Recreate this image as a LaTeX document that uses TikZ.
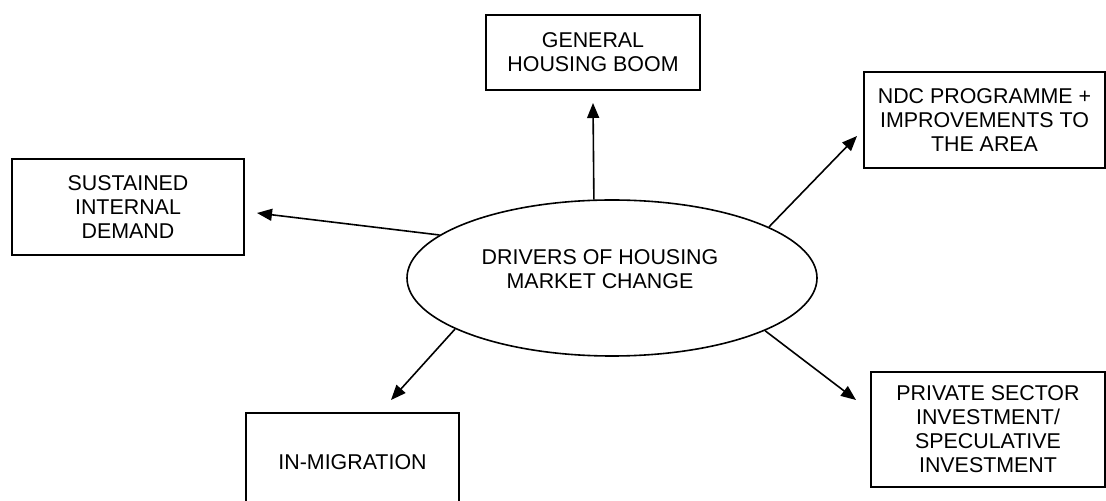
\documentclass[tikz,border=0pt]{standalone}
\usepackage{fontspec}
\setmainfont{Liberation Sans}
\usetikzlibrary{shapes.geometric, arrows.meta}

\begin{document}
\begin{tikzpicture}[x=0.5pt, y=-0.5pt,
    every node/.style={font=\fontsize{10.7}{12}\selectfont},
    box/.style={draw, line width=0.8pt, align=center, inner sep=2pt},
    conn/.style={-{Triangle[length=7.5pt, width=6pt]}, line width=0.8pt}]
    \useasboundingbox (0,0) rectangle (1106,501);

    % Centre
    \node[ellipse, draw, line width=0.8pt, minimum width=205pt, minimum height=78pt] (drivers) at (612,278) {};
    \node[align=center] (driverstext) at (600,269) {DRIVERS OF HOUSING\\MARKET CHANGE};

    % Boxes
    \node[box, minimum width=107pt, minimum height=37.5pt] (boom) at (593,52.5) {GENERAL\\HOUSING BOOM};
    \node[box, minimum width=120.5pt, minimum height=48pt] (ndc) at (984.5,120) {NDC PROGRAMME +\\IMPROVEMENTS TO\\THE AREA};
    \node[box, minimum width=116pt, minimum height=48pt] (demand) at (128,207) {SUSTAINED\\INTERNAL\\DEMAND};
    \node[box, minimum width=106.5pt, minimum height=49pt] (migration) at (352.5,462) {IN-MIGRATION};
    \node[box, minimum width=117pt, minimum height=57.5pt] (private) at (988,429.5) {PRIVATE SECTOR\\INVESTMENT/\\SPECULATIVE\\INVESTMENT};

    % Arrow tips
    \coordinate (toboom) at (593,103);
    \coordinate (tondc) at (857,136);
    \coordinate (todemand) at (257,213);
    \coordinate (tomigration) at (391,400);
    \coordinate (toprivate) at (856,400);

    % Arrows
    \draw[conn] (drivers.103.7) -- (toboom);
    \draw[conn] (drivers.18.2) -- (tondc);
    \draw[conn] (drivers.166) -- (todemand);
    \draw[conn] (drivers.198.9) -- (tomigration);
    \draw[conn] (drivers.341.5) -- (toprivate);
\end{tikzpicture}
\end{document}
